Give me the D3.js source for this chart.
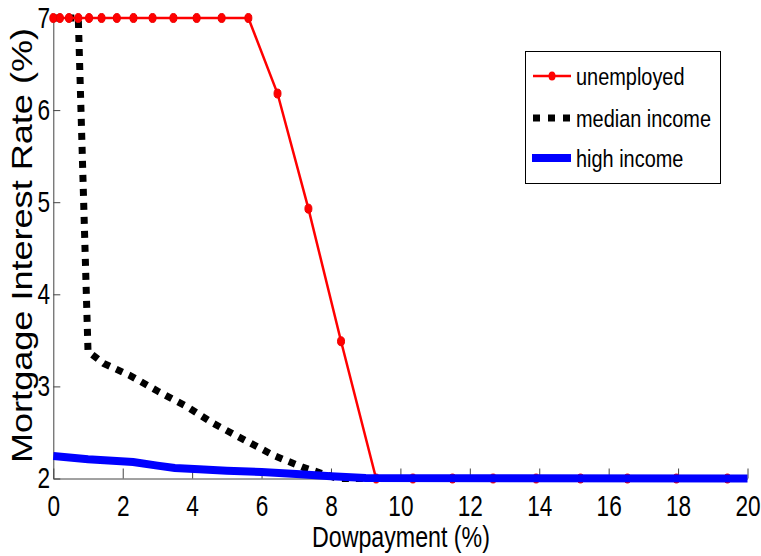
<!DOCTYPE html>
<html>
<head>
<meta charset="utf-8">
<script src="https://cdn.jsdelivr.net/npm/d3@7"></script>
<style>
  body { margin: 0; background: #fff; }
  text { font-family: "Liberation Sans", Arial, sans-serif; }
</style>
</head>
<body>
<script>
// unemployed (red line with markers)
var unempX = [0, 0.19, 0.45, 0.72, 1.03, 1.39, 1.83, 2.31, 2.86, 3.46, 4.13, 4.85, 5.62,
              6.46, 7.35, 8.29, 9.30, 10.36, 11.50, 12.67, 13.91, 15.19, 16.54, 17.95, 19.42];
var unempY = [7, 7, 7, 7, 7, 7, 7, 7, 7, 7, 7, 7, 7,
              6.18, 4.93, 3.49, 2, 2, 2, 2, 2, 2, 2, 2, 2];

// median income (black dotted)
var medX = [0, 0.72, 1.0, 1.45, 2.2, 3.0, 3.85, 4.6, 5.5, 6.35, 7.2, 7.7, 8.2, 20];
var medY = [7, 7, 3.38, 3.25, 3.12, 2.95, 2.78, 2.6, 2.42, 2.25, 2.12, 2.06, 2.0, 2.0];

// high income (blue thick)
var highX = [0, 1.0, 2.3, 3.0, 3.5, 4.2, 5.0, 6.0, 7.0, 8.0, 9.0, 20];
var highY = [2.245, 2.21, 2.18, 2.14, 2.115, 2.1, 2.085, 2.07, 2.05, 2.025, 2.005, 2.0];

var xTicks = [0, 2, 4, 6, 8, 10, 12, 14, 16, 18, 20];
var yTicks = [2, 3, 4, 5, 6, 7];
var legendNames = ["unemployed", "median income", "high income"];

var w = 761, h = 556;
var x = d3.scaleLinear().domain([0, 20]).range([53.3, 747.5]);
var y = d3.scaleLinear().domain([2, 7]).range([478.5, 18]);

var svg = d3.select("body").append("svg")
    .attr("width", w)
    .attr("height", h);

function zip(xs, ys) { return xs.map(function(v, i) { return [v, ys[i]]; }); }
var line = d3.line().x(function(d) { return x(d[0]); }).y(function(d) { return y(d[1]); });

/* axes, ticks pointing inside */
var xAxis = svg.append("g")
    .attr("transform", "translate(0," + y(2) + ")")
    .call(d3.axisBottom(x).tickValues(xTicks).tickFormat(d3.format("d"))
      .tickSizeInner(-10).tickSizeOuter(0).tickPadding(17));
var yAxis = svg.append("g")
    .attr("transform", "translate(" + x(0) + ",0)")
    .call(d3.axisLeft(y).tickValues(yTicks).tickFormat(d3.format("d"))
      .tickSizeInner(-7).tickSizeOuter(0).tickPadding(4));

[xAxis, yAxis].forEach(function(a) {
  a.select(".domain").attr("stroke", "#444").attr("stroke-width", 1);
  a.selectAll(".tick line").attr("stroke", "#444");
  // narrow look of the original font
  a.selectAll(".tick text")
    .attr("fill", "#000")
    .attr("transform", "scale(0.78,1)")
    .style("font-size", "29px")
    .style("font-family", "'Liberation Sans', sans-serif");
});

/* series */
svg.append("path")
    .datum(zip(medX, medY))
    .attr("d", line)
    .attr("fill", "none")
    .attr("stroke", "#000")
    .attr("stroke-width", 7)
    .attr("stroke-dasharray", "7,7");

var unemp = zip(unempX, unempY);
svg.append("path")
    .datum(unemp)
    .attr("d", line)
    .attr("fill", "none")
    .attr("stroke", "#ff0000")
    .attr("stroke-width", 2.5);

svg.selectAll(".marker")
    .data(unemp)
    .enter()
    .append("ellipse")
      .attr("class", "marker")
      .attr("cx", function(d) { return x(d[0]); })
      .attr("cy", function(d) { return y(d[1]); })
      .attr("rx", 3.5)
      .attr("ry", 4.5)
      .attr("fill", "#ff0000")
      .attr("stroke", "#ee0000")
      .attr("stroke-width", 1);

svg.append("path")
    .datum(zip(highX, highY))
    .attr("d", line)
    .attr("fill", "none")
    .attr("stroke", "#0000ff")
    .attr("stroke-width", 8);

/* axis labels */
svg.append("text")
    .attr("transform", "translate(401,547) scale(0.8,1)")
    .attr("text-anchor", "middle")
    .style("font-size", "29px")
    .text("Dowpayment (%)");

svg.append("text")
    .attr("transform", "translate(32,245.5) rotate(-90)")
    .attr("text-anchor", "middle")
    .attr("textLength", 435)
    .attr("lengthAdjust", "spacingAndGlyphs")
    .style("font-size", "29px")
    .text("Mortgage Interest Rate (%)");

/* legend */
var lg = svg.append("g");
lg.append("rect")
    .attr("x", 525.5).attr("y", 51.5)
    .attr("width", 195).attr("height", 132)
    .attr("fill", "#fff")
    .attr("stroke", "#000")
    .attr("stroke-width", 1);

var rows = [76, 118, 158];
lg.append("line")
    .attr("x1", 533).attr("x2", 571).attr("y1", rows[0]).attr("y2", rows[0])
    .attr("stroke", "#ff0000").attr("stroke-width", 2.5);
lg.append("ellipse")
    .attr("cx", 552).attr("cy", rows[0]).attr("rx", 3.5).attr("ry", 4.5)
    .attr("fill", "#ff0000");
lg.append("line")
    .attr("x1", 533).attr("x2", 572).attr("y1", rows[1]).attr("y2", rows[1])
    .attr("stroke", "#000").attr("stroke-width", 7).attr("stroke-dasharray", "7,8");
lg.append("line")
    .attr("x1", 532).attr("x2", 571).attr("y1", rows[2]).attr("y2", rows[2])
    .attr("stroke", "#0000ff").attr("stroke-width", 8);

lg.selectAll(".lgtext")
    .data(legendNames)
    .enter()
    .append("text")
      .attr("transform", function(d, i) { return "translate(576," + (rows[i] + 9) + ") scale(0.83,1)"; })
      .style("font-size", "24px")
      .text(function(d) { return d; });
</script>
</body>
</html>
